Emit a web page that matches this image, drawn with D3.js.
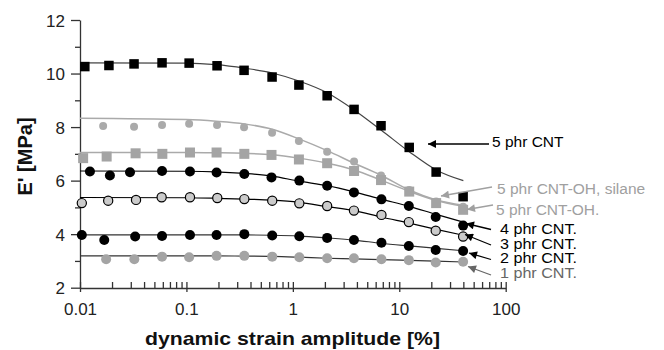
<!DOCTYPE html>
<meta charset="utf-8" />
<html>
<head>
    <style>
        body { margin: 0; background: #fff; }
        text { font-family: "Liberation Sans", Arial, sans-serif; }
        .axis path, .axis line { stroke: #333; stroke-width: 1.3px; }
        .axis text { font-size: 17px; fill: #222; }
    </style>
</head>
<body>
    <svg width="664" height="350"></svg>
    <script src="https://d3js.org/d3.v7.min.js"></script>
    <script>
        // measured points, strain amplitude [%] and E' [MPa]
        var xCnt5 = [0.0111, 0.0187, 0.0322, 0.059, 0.106, 0.194, 0.348, 0.638, 1.14, 2.10, 3.76, 6.74, 12.4, 22.2, 39.8];
        var yCnt5 = [10.26, 10.30, 10.36, 10.40, 10.39, 10.29, 10.12, 9.87, 9.57, 9.17, 8.66, 8.05, 7.24, 6.32, 5.40];

        var xOhCirc = [0.0165, 0.0322, 0.059, 0.106, 0.194, 0.348, 0.638, 1.14, 2.10, 3.76, 6.74, 12.4, 22.2, 39.8];
        var yOhCirc = [8.04, 8.01, 8.08, 8.12, 8.08, 7.99, 7.79, 7.48, 7.08, 6.71, 6.19, 5.65, 5.22, 5.02];

        var xOhSq = [0.0107, 0.0178, 0.0333, 0.0594, 0.108, 0.192, 0.35, 0.63, 1.14, 2.10, 3.76, 6.74, 12.4, 22.2, 39.8];
        var yOhSq = [6.84, 6.90, 7.02, 7.00, 7.05, 7.05, 7.00, 6.96, 6.79, 6.65, 6.36, 6.02, 5.59, 5.16, 4.91];

        var xCnt4 = [0.0124, 0.0191, 0.0295, 0.059, 0.108, 0.192, 0.35, 0.63, 1.15, 2.10, 3.75, 6.8, 12.3, 22.0, 39.8];
        var yCnt4 = [6.34, 6.19, 6.31, 6.36, 6.34, 6.30, 6.25, 6.12, 6.00, 5.81, 5.56, 5.30, 5.05, 4.64, 4.32];

        var xCnt3 = [0.0104, 0.0184, 0.0336, 0.0585, 0.108, 0.195, 0.35, 0.64, 1.15, 2.10, 3.75, 6.8, 12.3, 22.0, 39.8];
        var yCnt3 = [5.16, 5.25, 5.28, 5.38, 5.38, 5.35, 5.31, 5.25, 5.15, 5.05, 4.88, 4.72, 4.45, 4.13, 3.91];

        var xCnt2 = [0.0104, 0.0169, 0.033, 0.059, 0.108, 0.192, 0.35, 0.64, 1.15, 2.10, 3.75, 6.8, 12.3, 22.0, 39.8];
        var yCnt2 = [3.97, 3.78, 3.91, 3.93, 3.97, 3.97, 4.00, 3.95, 3.92, 3.86, 3.78, 3.68, 3.56, 3.41, 3.37];

        var xCnt1 = [0.0176, 0.0324, 0.059, 0.106, 0.192, 0.35, 0.64, 1.15, 2.10, 3.75, 6.8, 12.3, 22.0, 39.8];
        var yCnt1 = [3.06, 3.06, 3.16, 3.14, 3.19, 3.19, 3.16, 3.14, 3.10, 3.10, 3.06, 3.03, 2.94, 2.97];

        // fitted curves
        var fitX = [0.01, 0.1, 0.19, 0.35, 0.64, 1.14, 2.1, 3.76, 6.74, 12.4, 22.2, 40];
        var fitCnt5 = [10.40, 10.39, 10.33, 10.20, 10.02, 9.72, 9.28, 8.64, 7.89, 7.08, 6.40, 6.00];
        var fitOhCirc = [8.33, 8.28, 8.22, 8.12, 7.92, 7.56, 7.12, 6.65, 6.20, 5.65, 5.28, 5.08];
        var fitOhSq = [7.05, 7.05, 7.04, 7.02, 6.97, 6.84, 6.65, 6.40, 6.02, 5.60, 5.26, 5.04];
        var fitCnt4 = [6.36, 6.35, 6.33, 6.27, 6.17, 5.98, 5.81, 5.58, 5.31, 5.04, 4.74, 4.45];
        var fitCnt3 = [5.37, 5.36, 5.34, 5.31, 5.27, 5.19, 5.03, 4.88, 4.64, 4.41, 4.18, 3.96];
        var fitCnt2 = [3.97, 3.97, 3.97, 3.97, 3.96, 3.93, 3.86, 3.78, 3.66, 3.56, 3.47, 3.38];
        var fitCnt1 = [3.19, 3.19, 3.19, 3.18, 3.17, 3.14, 3.10, 3.08, 3.05, 3.02, 2.99, 2.96];

        var xTicks = [0.01, 0.1, 1, 10, 100];
        var xTickLabels = ["0.01", "0.1", "1", "10", "100"];
        var yTicks = [2, 4, 6, 8, 10, 12];
        var labels = ["5 phr CNT", "5 phr CNT-OH, silane", "5 phr CNT-OH.", "4 phr CNT.", "3 phr CNT.", "2 phr CNT.", "1 phr CNT."];

        var svg = d3.select("svg");
        var x = d3.scaleLog().domain([0.01, 100]).range([80, 505.7]);
        var y = d3.scaleLinear().domain([2, 12]).range([287.7, 20]);

        var series = [
            { xs: xCnt5, ys: yCnt5, fit: fitCnt5, shape: "square", size: 9.5, fill: "#000", stroke: "none", line: "#444", lw: 1.2 },
            { xs: xOhCirc, ys: yOhCirc, fit: fitOhCirc, shape: "circle", size: 4, fill: "#aaa", stroke: "none", line: "#aaa", lw: 1.5 },
            { xs: xOhSq, ys: yOhSq, fit: fitOhSq, shape: "square", size: 10, fill: "#a4a4a4", stroke: "none", line: "#aaa", lw: 1.5 },
            { xs: xCnt4, ys: yCnt4, fit: fitCnt4, shape: "circle", size: 5, fill: "#000", stroke: "none", line: "#000", lw: 1.2 },
            { xs: xCnt3, ys: yCnt3, fit: fitCnt3, shape: "circle", size: 4.6, fill: "#cbcbcb", stroke: "#000", line: "#000", lw: 1.2 },
            { xs: xCnt2, ys: yCnt2, fit: fitCnt2, shape: "circle", size: 5, fill: "#000", stroke: "none", line: "#333", lw: 1.2 },
            { xs: xCnt1, ys: yCnt1, fit: fitCnt1, shape: "circle", size: 5, fill: "#a4a4a4", stroke: "none", line: "#333", lw: 1.2 }
        ];

        // axes
        var yAxis = svg.append("g").attr("class", "axis")
            .attr("transform", "translate(80,0)")
            .call(d3.axisLeft(y).tickValues(yTicks).tickSize(9).tickPadding(6).tickSizeOuter(0));
        yAxis.selectAll("text").attr("dy", "0.36em");
        svg.append("g").attr("class", "axis")
            .attr("transform", "translate(80,0)")
            .call(d3.axisLeft(y).tickValues([3, 5, 7, 9, 11]).tickSize(5).tickFormat("").tickSizeOuter(0))
            .select(".domain").remove();

        var minor = [];
        [0.01, 0.1, 1, 10].forEach(function (d) {
            for (var k = 2; k <= 9; k++) minor.push(d * k);
        });
        svg.append("g").attr("class", "axis")
            .attr("transform", "translate(0,288)")
            .call(d3.axisBottom(x).tickValues(xTicks).tickSize(4).tickPadding(11).tickSizeOuter(0)
                .tickFormat(function (d, i) { return xTickLabels[i]; }));
        svg.append("g").attr("class", "axis")
            .attr("transform", "translate(0,288)")
            .call(d3.axisTop(x).tickValues(xTicks.concat(minor)).tickSize(6).tickFormat("").tickSizeOuter(0))
            .select(".domain").remove();

        // fit curves
        var line = d3.line()
            .x(function (d) { return x(d[0]); })
            .y(function (d) { return y(d[1]); })
            .curve(d3.curveMonotoneX);

        series.forEach(function (s) {
            svg.append("path")
                .attr("d", line(fitX.map(function (v, i) { return [v, s.fit[i]]; })))
                .attr("fill", "none")
                .attr("stroke", s.line)
                .attr("stroke-width", s.lw);
        });

        // markers
        series.forEach(function (s) {
            var pts = s.xs.map(function (v, i) { return [v, s.ys[i]]; });
            var g = svg.append("g");
            if (s.shape === "square") {
                g.selectAll("rect").data(pts).enter().append("rect")
                    .attr("x", function (d) { return x(d[0]) - s.size / 2; })
                    .attr("y", function (d) { return y(d[1]) - s.size / 2; })
                    .attr("width", s.size)
                    .attr("height", s.size)
                    .attr("fill", s.fill);
            } else {
                g.selectAll("circle").data(pts).enter().append("circle")
                    .attr("cx", function (d) { return x(d[0]); })
                    .attr("cy", function (d) { return y(d[1]); })
                    .attr("r", s.size)
                    .attr("fill", s.fill)
                    .attr("stroke", s.stroke)
                    .attr("stroke-width", 1.2);
            }
        });

        // arrows and labels
        var notes = [
            { tail: [489, 144], tip: [428, 144], tx: 492, ty: 147, fs: 15.5, color: "#000" },
            { tail: [492, 187], tip: [441, 196], tx: 497, ty: 193.5, fs: 15.5, color: "#a0a0a0" },
            { tail: [493, 205], tip: [467, 209.5], tx: 496, ty: 214.5, fs: 15.5, color: "#a0a0a0" },
            { tail: [491, 229.5], tip: [466, 223.5], tx: 500, ty: 234, fs: 14.5, color: "#000" },
            { tail: [491, 245], tip: [465, 234.5], tx: 500, ty: 248.5, fs: 14.5, color: "#000" },
            { tail: [491, 259.5], tip: [469, 253], tx: 500, ty: 263, fs: 14.5, color: "#000" },
            { tail: [491, 275], tip: [468, 266.5], tx: 500, ty: 277.5, fs: 14.5, color: "#666" }
        ];

        var defs = svg.append("defs");
        notes.forEach(function (n, i) {
            defs.append("marker")
                .attr("id", "head" + i)
                .attr("viewBox", "0 0 10 10")
                .attr("refX", 10).attr("refY", 5)
                .attr("markerUnits", "userSpaceOnUse")
                .attr("markerWidth", 10).attr("markerHeight", 8)
                .attr("orient", "auto")
                .append("path").attr("d", "M0,0L10,5L0,10Z").attr("fill", n.color);

            svg.append("line")
                .attr("x1", n.tail[0]).attr("y1", n.tail[1])
                .attr("x2", n.tip[0]).attr("y2", n.tip[1])
                .attr("stroke", n.color).attr("stroke-width", 1.3)
                .attr("marker-end", "url(#head" + i + ")");

            svg.append("text")
                .attr("x", n.tx).attr("y", n.ty)
                .attr("fill", n.color)
                .style("font-size", n.fs + "px")
                .attr("textLength", i > 2 ? 77 : null)
                .attr("lengthAdjust", "spacingAndGlyphs")
                .text(labels[i]);
        });

        // titles
        svg.append("text")
            .attr("x", 292.5).attr("y", 345)
            .attr("text-anchor", "middle")
            .attr("textLength", 295)
            .attr("lengthAdjust", "spacingAndGlyphs")
            .style("font-size", "19px").style("font-weight", "bold").attr("fill", "#111")
            .text("dynamic strain amplitude [%]");

        svg.append("text")
            .attr("transform", "translate(32,156.5) rotate(-90)")
            .attr("text-anchor", "middle")
            .style("font-size", "20px").style("font-weight", "bold").attr("fill", "#111")
            .text("E' [MPa]");
    </script>
</body>
</html>
